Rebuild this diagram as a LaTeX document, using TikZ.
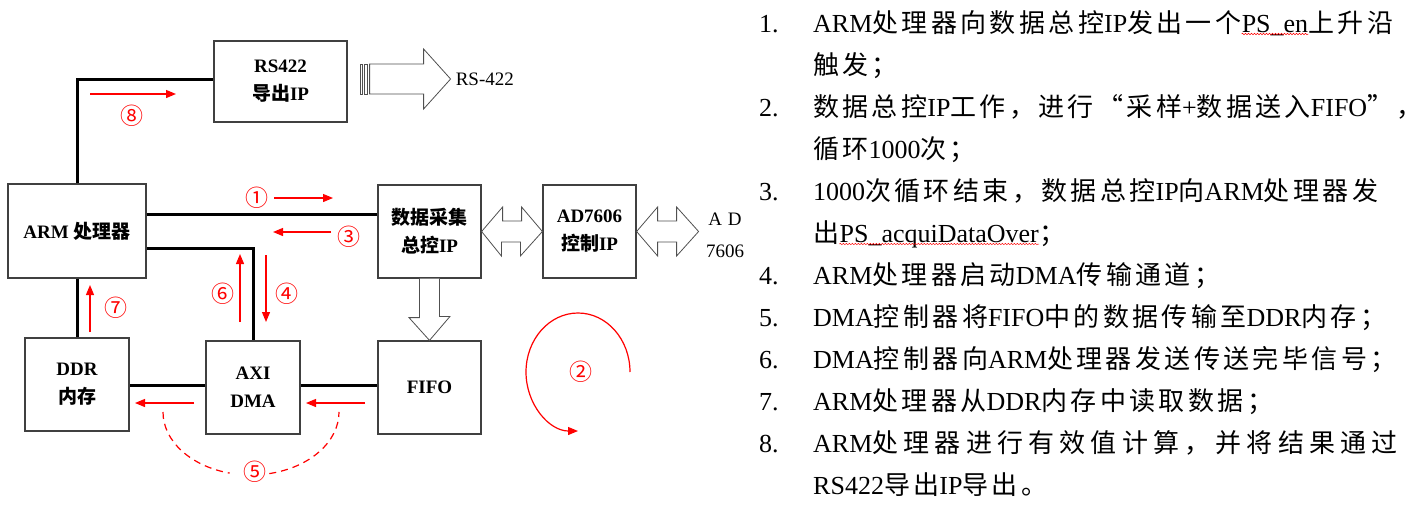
\documentclass[tikz,border=0pt]{standalone}
\usepackage{fontspec}
\setmainfont{Liberation Serif}
\newfontfamily\cjk[LetterSpace=13]{Noto Sans CJK SC}
\newfontfamily\cjkwide[LetterSpace=20]{Noto Sans CJK SC}
\newfontfamily\cjkbox{Noto Sans CJK SC}
\usetikzlibrary{arrows.meta,calc,decorations.pathmorphing}
\newcommand\C[1]{{\cjk #1}}
\newcommand\W[1]{{\cjkwide #1}}
\newcommand\B[1]{{\cjkbox #1}}
\definecolor{boxgray}{HTML}{404040}
\definecolor{hollowgray}{HTML}{505050}
\tikzset{
 blk/.style={rectangle, draw=boxgray, line width=1.2pt, fill=white, inner sep=0pt, align=center, font=\fontsize{19}{28}\selectfont\bfseries},
 wire/.style={line width=3pt, black},
 redarr/.style={red, line width=1.2pt, -{Triangle[length=10pt,width=8pt]}},
 num/.style={red, font=\fontsize{23}{23}\selectfont\cjkbox, inner sep=0pt},
 hollow/.style={draw=hollowgray, line width=0.8pt, fill=white, line join=miter},
 txt/.style={anchor=base west, inner sep=0pt, font=\fontsize{26}{26}\selectfont},
 lbl/.style={font=\fontsize{19}{32}\selectfont, inner sep=0pt, align=center},
 spell/.style={red, line width=0.5pt, decorate, decoration={snake, amplitude=0.7pt, segment length=3pt}},
 dash5/.style={red, line width=1.2pt, dash pattern=on 7pt off 5pt},
}
\begin{document}
\begin{tikzpicture}[x=1pt,y=-1pt]
\useasboundingbox[fill=white] (0,0) rectangle (1422,506);
% boxes
\node[blk, minimum width=133pt, minimum height=81pt] (rs) at (280.5,81.5) {RS422\\\B{导出}IP};
\node[blk, minimum width=138pt, minimum height=94pt] (arm) at (77,231) {ARM \B{处理器}};
\node[blk, minimum width=103pt, minimum height=93pt] (da) at (429.5,231.5) {\B{数据采集}\\\B{总控}IP};
\node[blk, minimum width=93pt, minimum height=93pt] (ad) at (589.5,231.5) {AD7606\\\B{控制}IP};
\node[blk, minimum width=104pt, minimum height=93pt] (ddr) at (77,384.5) {DDR\\\B{内存}};
\node[blk, minimum width=94pt, minimum height=93pt] (axi) at (253,387.5) {AXI\\DMA};
\node[blk, minimum width=103pt, minimum height=93pt] (fifo) at (429.5,387.5) {FIFO};
% wires
\draw[wire] (arm.north) |- ([yshift=2.5pt]rs.west);
\draw[wire] ([yshift=17pt]arm.east) -- ([yshift=17pt]arm.east -| da.west);
\draw[wire] ([yshift=-17pt]arm.east) -| (axi.north);
\draw[wire] (arm.south) -- (ddr.north);
\draw[wire] ([yshift=2.5pt]axi.west) -- ([yshift=2.5pt]axi.west -| ddr.east);
\draw[wire] ([yshift=2.5pt]axi.east) -- ([yshift=2.5pt]axi.east -| fifo.west);
% hollow arrows
\coordinate (rsout) at ($(rs.east)+(103,-2.5)$);
\draw[hollow] ($(rs.east)+(22,-17.5)$) -- ++(54,0) -- ++(0,-15) -- (rsout) -- ++(-27,30) -- ++(0,-15) -- ++(-54,0) -- cycle;
\draw[hollow] ($(rs.east)+(12.5,-17.5)$) rectangle ++(2.5,30);
\draw[hollow] ($(rs.east)+(17,-17.5)$) rectangle ++(2.5,30);
\node[lbl, anchor=west] (rsl) at ($(rsout)+(5,0)$) {RS-422};
\draw[hollow] (da.east) -- ++(21,-24.5) -- ++(0,14) -- ++(19,0) -- ++(0,-14) -- (ad.west) -- ++(-22,24.5) -- ++(0,-14) -- ++(-19,0) -- ++(0,14) -- cycle;
\coordinate (adout) at ($(ad.east)+(62,0)$);
\draw[hollow] (ad.east) -- ++(21,-24.5) -- ++(0,14) -- ++(19,0) -- ++(0,-14) -- (adout) -- ++(-22,24.5) -- ++(0,-14) -- ++(-19,0) -- ++(0,14) -- cycle;
\node[lbl] (adl) at (725,235) {A\hspace{6pt}D\\7606};
\draw[hollow] ($(da.south)+(-10,0)$) -- ++(0,39) -- ++(-10.5,0) -- (fifo.north) -- ++(20.5,-24) -- ++(-10.5,0) -- ($(da.south)+(10,0)$);
% red step arrows
\coordinate (a8s) at (90,94);   \coordinate (a8e) at (176,94);
\coordinate (a1s) at (274,198); \coordinate (a1e) at (333,198);
\coordinate (a3s) at (331,232); \coordinate (a3e) at (273,232);
\coordinate (a6s) at (240,322); \coordinate (a6e) at (240,254);
\coordinate (a4s) at (266,255); \coordinate (a4e) at (266,322);
\coordinate (a7s) at (90,332);  \coordinate (a7e) at (90,285);
\coordinate (a5as) at (194,403); \coordinate (a5ae) at (135,403);
\coordinate (a5bs) at (365,403); \coordinate (a5be) at (306,403);
\draw[redarr] (a8s) -- (a8e);
\draw[redarr] (a1s) -- (a1e);
\draw[redarr] (a3s) -- (a3e);
\draw[redarr] (a6s) -- (a6e);
\draw[redarr] (a4s) -- (a4e);
\draw[redarr] (a7s) -- (a7e);
\draw[redarr] (a5as) -- (a5ae);
\draw[redarr] (a5bs) -- (a5be);
\coordinate (d5l) at (163,412);
\coordinate (d5r) at (269.3,473.6);
\draw[dash5] (d5l) arc[start angle=180, end angle=104, x radius=88, y radius=63];
\draw[dash5] (d5r) arc[start angle=78, end angle=0, x radius=88, y radius=63];
\coordinate (c2s) at (630,372);
\draw[redarr] (c2s) arc[start angle=0, end angle=-270, x radius=52, y radius=59];
% circled numbers
\node[num] (c8) at (132,116) {⑧};
\node[num] (c1) at (257,198) {①};
\node[num] (c3) at (349,237) {③};
\node[num] (c6) at (223,294) {⑥};
\node[num] (c4) at (287,294) {④};
\node[num] (c7) at (116,308) {⑦};
\node[num] (c5) at (255,472) {⑤};
\node[num] (c2) at (581,372) {②};
% right text
\node[txt] (n1) at (759,32) {1.};
\node[txt] (t1a) at (813,32) {ARM\C{处理器向数据总控}IP\C{发出一个}};
\node[txt] (t1b) at (t1a.base east) {PS\_en};
\node[txt] (t1c) at (t1b.base east) {\C{上升沿}};
\draw[spell] ([yshift=-2pt]t1b.base west) -- ([yshift=-2pt]t1b.base east);
\node[txt] (t1d) at (813,74) {\C{触发；}};
\node[txt] (n2) at (759,116) {2.};
\node[txt] (t2a) at (813,116) {\C{数据总控}IP\C{工作，进行“采样}+\C{数据送入}FIFO\C{”，}};
\node[txt] (t2b) at (813,158) {\C{循环}1000\C{次；}};
\node[txt] (n3) at (759,200) {3.};
\node[txt] (t3a) at (813,200) {1000\C{次循环结束，数据总控}IP\C{向}ARM\C{处理器发}};
\node[txt] (t3b) at (813,242) {\C{出}};
\node[txt] (t3c) at (t3b.base east) {PS\_acquiDataOver};
\node[txt] (t3d) at (t3c.base east) {\C{；}};
\draw[spell] ([yshift=-2pt]t3c.base west) -- ([yshift=-2pt]t3c.base east);
\node[txt] (n4) at (759,284) {4.};
\node[txt] (t4) at (813,284) {ARM\C{处理器启动}DMA\C{传输通道；}};
\node[txt] (n5) at (759,326) {5.};
\node[txt] (t5) at (813,326) {DMA\C{控制器将}FIFO\C{中的数据传输至}DDR\C{内存；}};
\node[txt] (n6) at (759,368) {6.};
\node[txt] (t6) at (813,368) {DMA\C{控制器向}ARM\C{处理器发送传送完毕信号；}};
\node[txt] (n7) at (759,410) {7.};
\node[txt] (t7) at (813,410) {ARM\C{处理器从}DDR\C{内存中读取数据；}};
\node[txt] (n8) at (759,452) {8.};
\node[txt] (t8a) at (813,452) {ARM\W{处理器进行有效值计算，并将结果通过}};
\node[txt] (t8b) at (813,494) {RS422\C{导出}IP\C{导出。}};
\end{tikzpicture}
\end{document}
